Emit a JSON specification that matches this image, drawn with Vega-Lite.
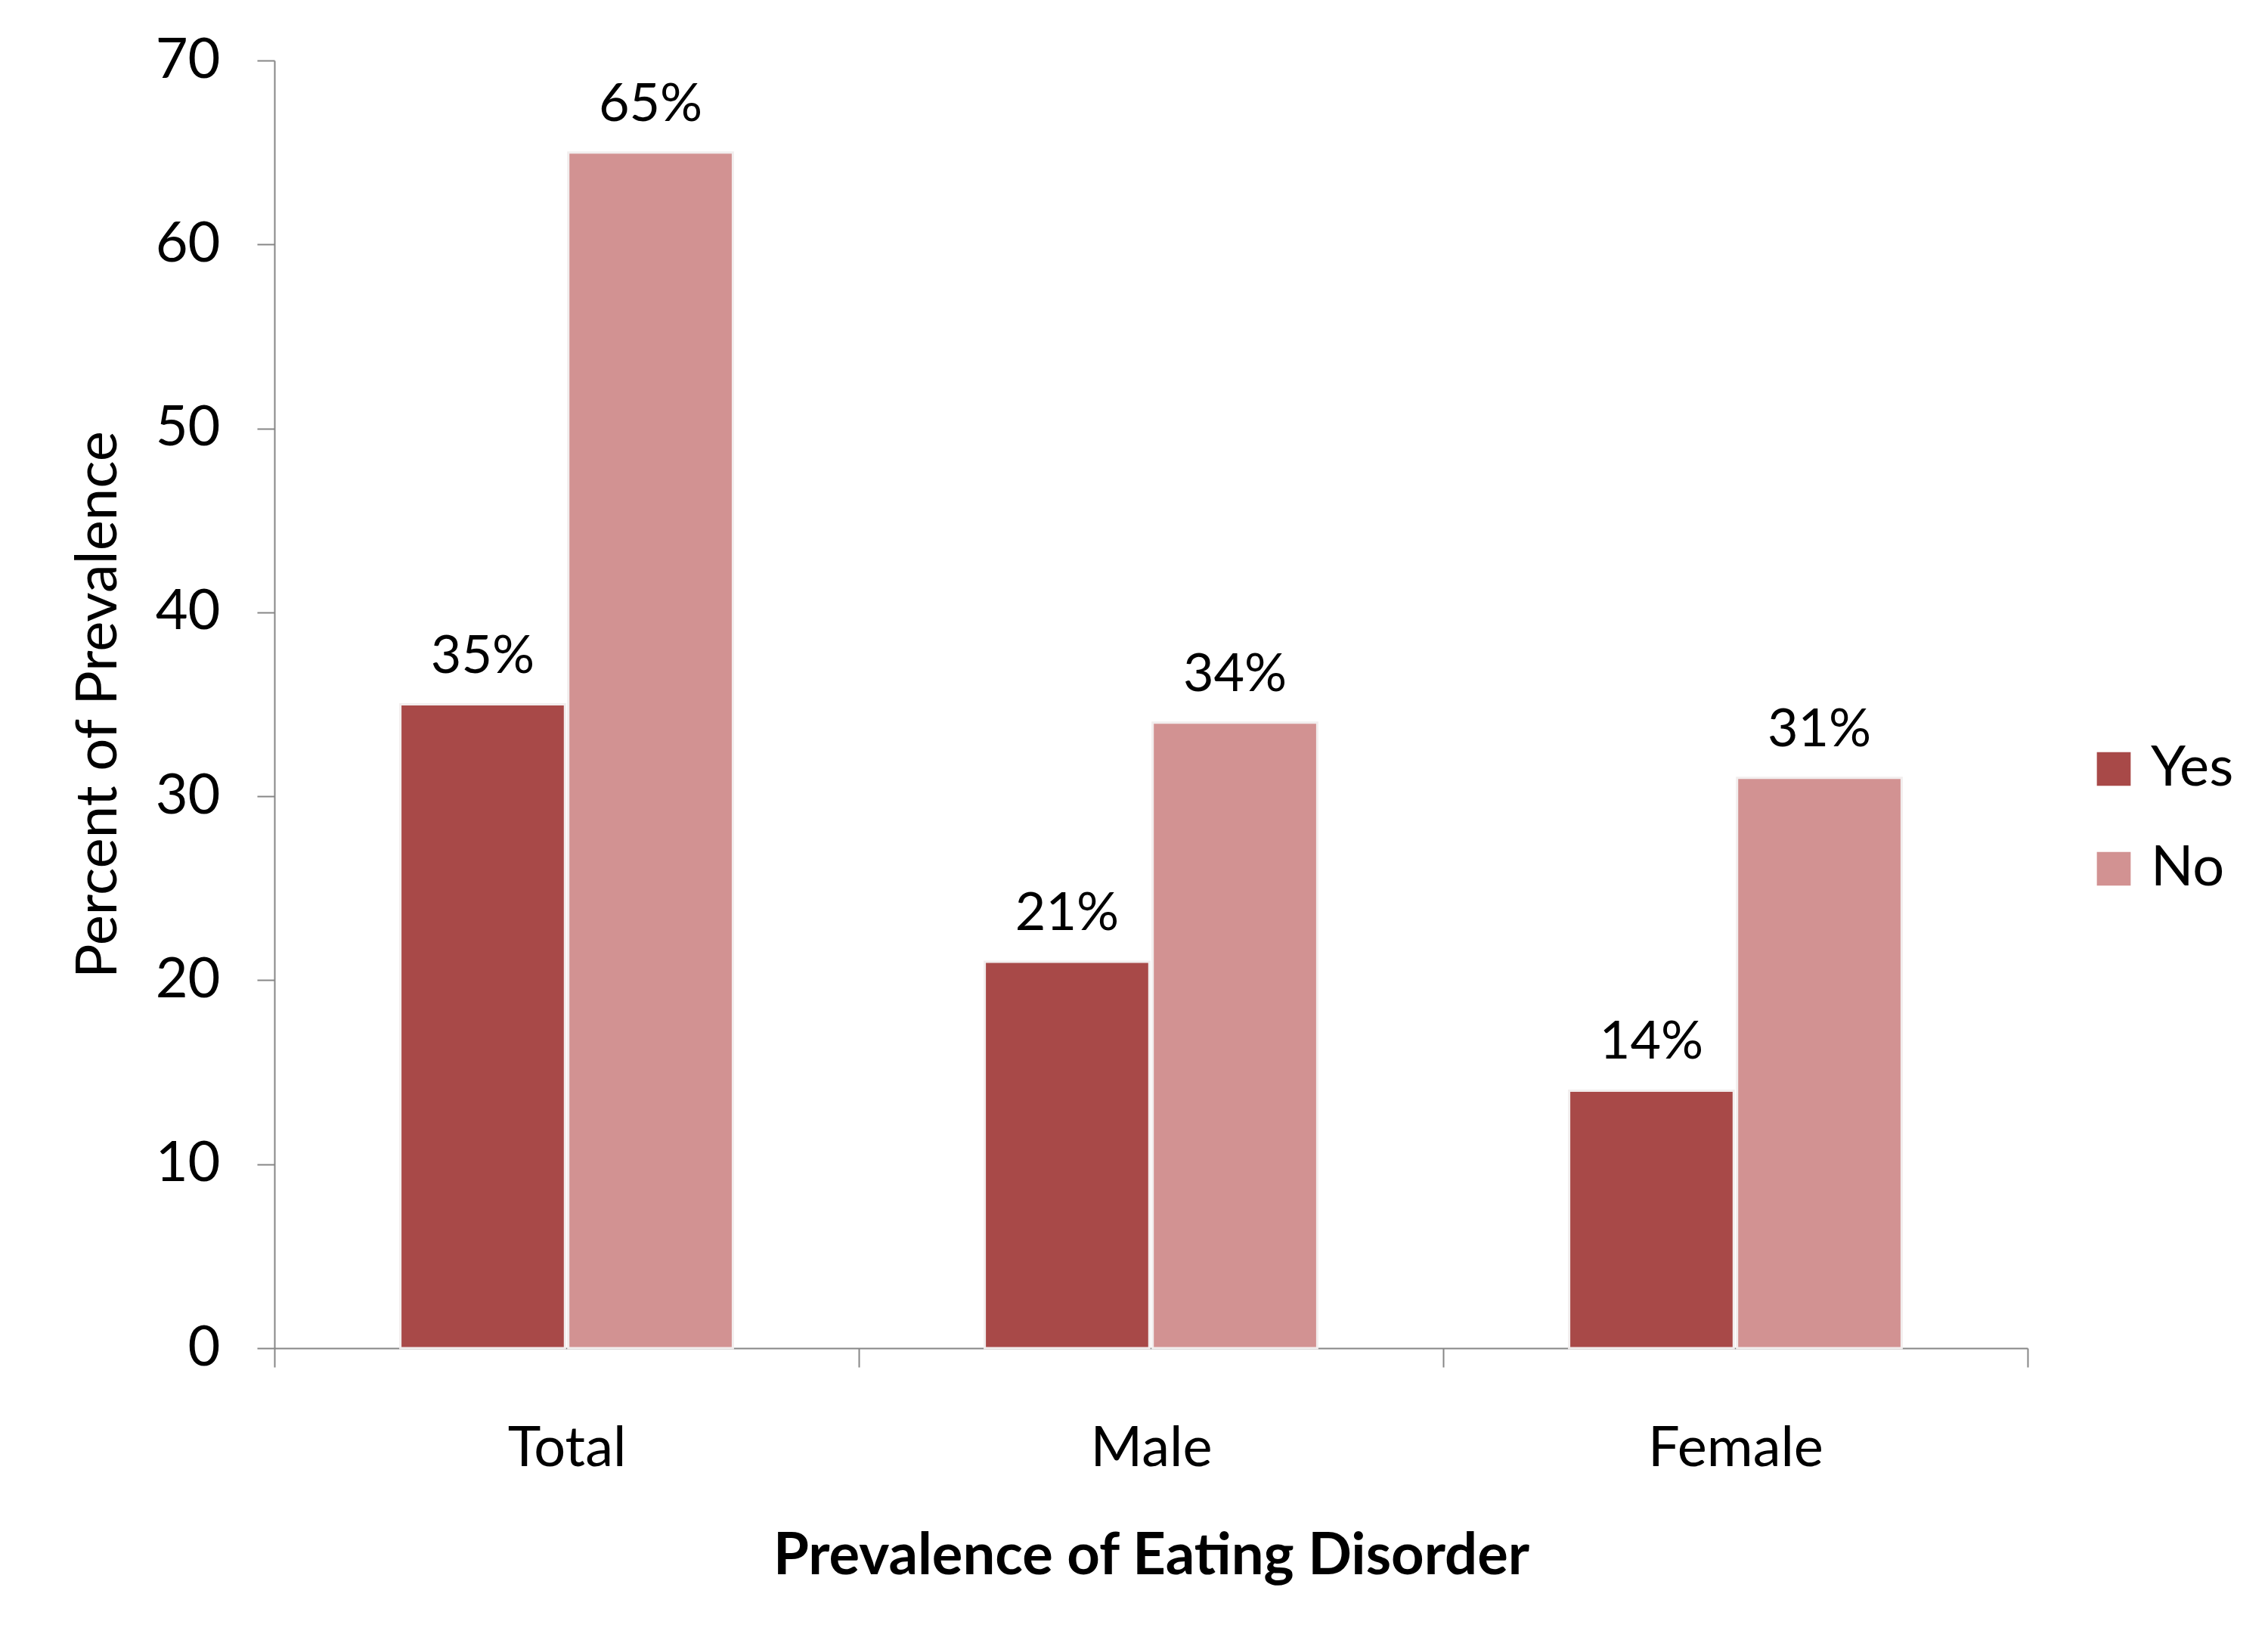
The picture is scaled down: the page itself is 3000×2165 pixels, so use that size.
{
  "$schema": "https://vega.github.io/schema/vega-lite/v6.json",
  "autosize": {"type": "none"},
  "width": 2319,
  "height": 1703,
  "padding": {"left": 363, "top": 80, "right": 318, "bottom": 382},
  "background": "white",
  "config": {
    "view": {"stroke": null},
    "font": "Lato",
    "axis": {"labelFont": "Lato", "titleFont": "Lato", "labelColor": "#000000", "titleColor": "#000000"}
  },
  "data": {
    "values": [
      {"category": "Total", "group": "Yes", "value": 35},
      {"category": "Total", "group": "No", "value": 65},
      {"category": "Male", "group": "Yes", "value": 21},
      {"category": "Male", "group": "No", "value": 34},
      {"category": "Female", "group": "Yes", "value": 14},
      {"category": "Female", "group": "No", "value": 31}
    ]
  },
  "encoding": {
    "x": {
      "field": "category",
      "type": "nominal",
      "sort": ["Total", "Male", "Female"],
      "scale": {"paddingInner": 0, "paddingOuter": 0},
      "axis": {
        "title": "Prevalence of Eating Disorder",
        "titleFontSize": 76,
        "titleFontWeight": "bold",
        "titlePadding": 68,
        "labelFontSize": 74,
        "labelAngle": 0,
        "labelPadding": 72,
        "labelLimit": 0,
        "tickBand": "extent",
        "tickSize": 25,
        "tickColor": "#868686",
        "tickWidth": 2,
        "domainColor": "#868686",
        "domainWidth": 2
      }
    },
    "xOffset": {
      "field": "group",
      "type": "nominal",
      "sort": ["Yes", "No"],
      "scale": {"paddingInner": 0.02, "paddingOuter": 0.75}
    },
    "y": {
      "field": "value",
      "type": "quantitative",
      "scale": {"domain": [0, 70], "nice": false},
      "axis": {
        "title": "Percent of Prevalence",
        "titleFontSize": 76,
        "titleFontWeight": "normal",
        "titlePadding": 36,
        "labelFontSize": 74,
        "labelPadding": 49,
        "values": [0, 10, 20, 30, 40, 50, 60, 70],
        "grid": false,
        "tickSize": 23,
        "tickColor": "#868686",
        "tickWidth": 2,
        "domainColor": "#868686",
        "domainWidth": 2
      }
    }
  },
  "layer": [
    {
      "mark": {"type": "bar", "stroke": "#f2eeee", "strokeWidth": 3},
      "encoding": {
        "color": {
          "field": "group",
          "type": "nominal",
          "scale": {"domain": ["Yes", "No"], "range": ["#A84948", "#D29292"]},
          "legend": {
            "title": null,
            "orient": "none",
            "legendX": 2396,
            "legendY": 900,
            "symbolType": "square",
            "symbolSize": 2000,
            "symbolStrokeWidth": 0,
            "labelFontSize": 74,
            "labelFont": "Lato",
            "labelColor": "#000000",
            "labelOffset": 12,
            "rowPadding": 58
          }
        }
      }
    },
    {
      "mark": {
        "type": "text",
        "baseline": "alphabetic",
        "align": "center",
        "dy": -42,
        "fontSize": 70,
        "font": "Lato",
        "color": "#000000",
        "text": {"expr": "datum.value + '%'"}
      },
      "encoding": {}
    }
  ]
}
